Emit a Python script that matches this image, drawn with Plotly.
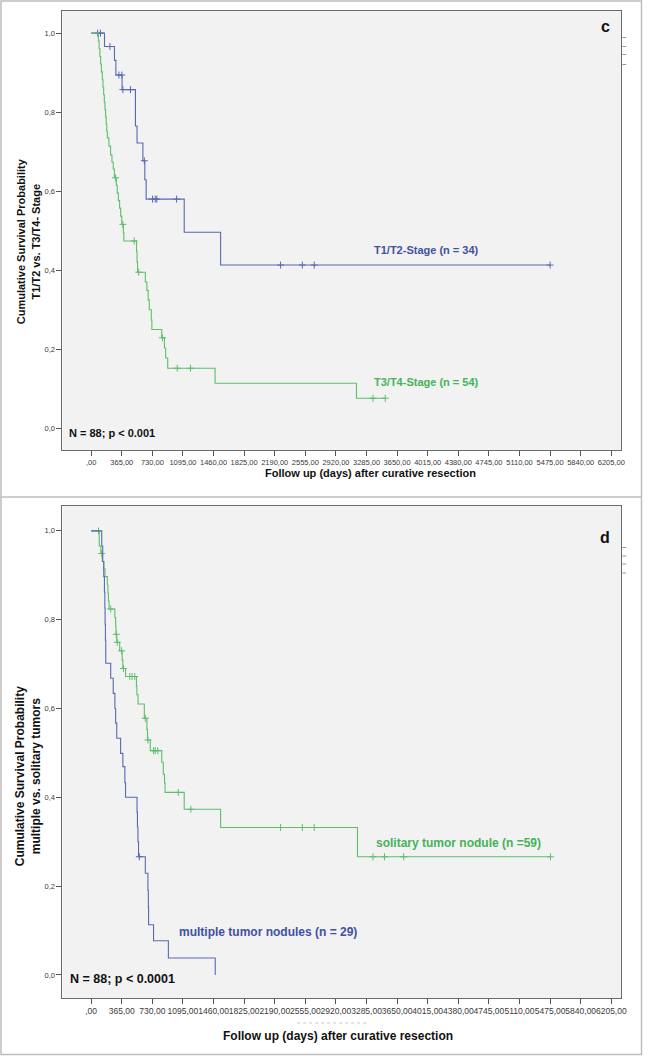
import plotly.graph_objects as go

W, H = 649, 1056

# ---------------- DATA ----------------
tick_days = [0, 365, 730, 1095, 1460, 1825, 2190, 2555, 2920, 3285, 3650, 4015,
             4380, 4745, 5110, 5475, 5840, 6205]
tick_day_labels = [",00", "365,00", "730,00", "1095,00", "1460,00", "1825,00", "2190,00",
                   "2555,00", "2920,00", "3285,00", "3650,00", "4015,00", "4380,00",
                   "4745,00", "5110,00", "5475,00", "5840,00", "6205,00"]
surv_ticks = [0.0, 0.2, 0.4, 0.6, 0.8, 1.0]
surv_tick_labels = ["0,0", "0,2", "0,4", "0,6", "0,8", "1,0"]

# Panel c: T1/T2 (blue)
c_blue_days = [0, 159, 278, 295, 369, 528, 547, 617, 640, 656, 1110, 1544, 5475]
c_blue_surv = [1.0, 0.966, 0.931, 0.894, 0.857, 0.765, 0.722, 0.677, 0.629, 0.580, 0.496, 0.413, 0.413]
c_blue_cens_days = [77, 111, 224, 331, 366, 378, 469, 634, 732, 764, 783, 1019, 2259, 2519, 2661, 5475]
c_blue_cens_surv = [1.0, 1.0, 0.966, 0.894, 0.894, 0.857, 0.857, 0.677, 0.580, 0.580, 0.580, 0.580,
                    0.413, 0.413, 0.413, 0.413]

# Panel c: T3/T4 (green)
c_green_days = [0, 86, 95, 104, 113, 122, 133, 141, 149, 157, 165, 172, 179, 186, 193, 212, 232,
                248, 263, 277, 300, 311, 325, 339, 352, 365, 384, 390, 541, 547, 553, 646, 665,
                680, 693, 717, 724, 842, 874, 889, 913, 1478, 3165, 3508]
c_green_surv = [1.0, 0.980, 0.961, 0.941, 0.922, 0.902, 0.882, 0.863, 0.844, 0.825, 0.806, 0.788,
                0.770, 0.752, 0.735, 0.714, 0.692, 0.674, 0.656, 0.634, 0.615, 0.595, 0.576,
                0.557, 0.537, 0.516, 0.495, 0.474, 0.448, 0.421, 0.395, 0.370, 0.349, 0.325,
                0.300, 0.274, 0.250, 0.229, 0.203, 0.178, 0.152, 0.114, 0.076, 0.076]
c_green_cens_days = [291, 378, 514, 567, 850, 1027, 1185, 3362, 3508]
c_green_cens_surv = [0.634, 0.516, 0.474, 0.395, 0.229, 0.152, 0.152, 0.076, 0.076]

# Panel d: solitary (green)
d_green_days = [0, 96, 115, 133, 150, 165, 193, 200, 206, 213, 283, 292, 296, 305, 340, 370, 378,
                410, 540, 545, 559, 634, 665, 672, 705, 842, 860, 875, 882, 1110, 1544, 3177, 5480]
d_green_surv = [1.0, 0.966, 0.949, 0.931, 0.914, 0.897, 0.878, 0.860, 0.842, 0.824, 0.805, 0.786,
                0.767, 0.749, 0.730, 0.709, 0.690, 0.672, 0.651, 0.631, 0.610, 0.578, 0.553,
                0.529, 0.505, 0.479, 0.452, 0.432, 0.411, 0.373, 0.332, 0.266, 0.266]
d_green_cens_days = [88, 126, 233, 299, 311, 363, 385, 461, 488, 520, 646, 677, 744, 764, 795,
                     1039, 1189, 2259, 2519, 2661, 3362, 3499, 3728, 5480]
d_green_cens_surv = [1.0, 0.949, 0.824, 0.767, 0.749, 0.730, 0.690, 0.672, 0.672, 0.672, 0.578,
                     0.529, 0.505, 0.505, 0.505, 0.411, 0.373, 0.332, 0.332, 0.332, 0.266,
                     0.266, 0.266, 0.266]

# Panel d: multiple (blue)
d_blue_days = [0, 126, 138, 150, 158, 163, 166, 170, 174, 233, 263, 283, 292, 305, 351, 378, 402,
               410, 547, 552, 558, 565, 646, 677, 682, 685, 744, 921, 1480]
d_blue_surv = [1.0, 0.966, 0.931, 0.897, 0.862, 0.826, 0.790, 0.754, 0.702, 0.668, 0.634, 0.600,
               0.567, 0.533, 0.499, 0.469, 0.433, 0.400, 0.366, 0.333, 0.300, 0.266, 0.229,
               0.191, 0.152, 0.113, 0.077, 0.038, 0.0]
d_blue_cens_days = [575]
d_blue_cens_surv = [0.266]

# ---------------- STYLE ----------------
BLUE = "#5869b2"
GREEN = "#5cbf6a"
BLUE_TXT = "#3e51a3"
GREEN_TXT = "#45b358"
FONT = "Arial, Liberation Sans, sans-serif"


def px(x):
    return x / W


def py(y):
    return 1 - y / H


fig = go.Figure()


def add_curve(days, surv, cd, cs, color, xa, ya):
    fig.add_trace(go.Scatter(x=days, y=surv, mode="lines", line=dict(color=color, width=1.1, shape="hv"),
                             xaxis=xa, yaxis=ya, showlegend=False, hoverinfo="skip"))
    fig.add_trace(go.Scatter(x=cd, y=cs, mode="markers",
                             marker=dict(symbol="cross-thin", size=5, line=dict(color=color, width=1)),
                             xaxis=xa, yaxis=ya, showlegend=False, hoverinfo="skip"))


add_curve(c_blue_days, c_blue_surv, c_blue_cens_days, c_blue_cens_surv, BLUE, "x", "y")
add_curve(c_green_days, c_green_surv, c_green_cens_days, c_green_cens_surv, GREEN, "x", "y")
add_curve(d_green_days, d_green_surv, d_green_cens_days, d_green_cens_surv, GREEN, "x2", "y2")
add_curve(d_blue_days, d_blue_surv, d_blue_cens_days, d_blue_cens_surv, BLUE, "x2", "y2")

XR = [-343, 6323]


def xaxis(domain, anchor, fsize):
    return dict(domain=domain, anchor=anchor, range=XR, tickmode="array", tickvals=tick_days,
                ticktext=tick_day_labels, ticks="outside", ticklen=5, tickcolor="#555",
                tickangle=0, tickfont=dict(family=FONT, size=fsize, color="#3a3a3a"),
                showline=True, mirror=True, linecolor="#6a6a6a", linewidth=1,
                showgrid=False, zeroline=False)


def yaxis(domain, anchor, yr):
    return dict(domain=domain, anchor=anchor, range=yr, tickmode="array", tickvals=surv_ticks,
                ticktext=surv_tick_labels, ticks="outside", ticklen=5, tickcolor="#555",
                tickfont=dict(family=FONT, size=7.5, color="#3a3a3a"),
                showline=True, mirror=True, linecolor="#6a6a6a", linewidth=1,
                showgrid=False, zeroline=False)


annotations = []


def txt(text, x, y, size, color, xref="paper", yref="paper", xanchor="center", bold=True,
        angle=0):
    annotations.append(dict(text=("<b>%s</b>" % text) if bold else text, x=x, y=y, xref=xref,
                            yref=yref, xanchor=xanchor, yanchor="middle", showarrow=False,
                            textangle=angle, font=dict(family=FONT, size=size, color=color)))


# Panel c texts
txt("T1/T2-Stage (n = 34)", 3354, 0.451, 11, BLUE_TXT, "x", "y", "left")
txt("T3/T4-Stage (n = 54)", 3354, 0.117, 11, GREEN_TXT, "x", "y", "left")
txt("N = 88; p < 0.001", -290, -0.011, 11, "#111", "x", "y", "left")
txt("c", px(611), py(27), 16, "#111")
txt("Follow up (days) after curative resection", px(374), py(473), 11, "#111")
txt("Cumulative Survival Probability<br>T1/T2 vs. T3/T4- Stage", px(28.5), py(241), 11, "#111",
    angle=-90)

# Panel d texts
txt("solitary tumor nodule (n =59)", 3378, 0.297, 12, GREEN_TXT, "x2", "y2", "left")
txt("multiple tumor nodules (n = 29)", 1027, 0.097, 12, BLUE_TXT, "x2", "y2", "left")
txt("N = 88; p < 0.0001", -280, -0.009, 12.5, "#111", "x2", "y2", "left")
txt("d", px(611), py(537), 16, "#111")
txt("Follow up (days) after curative resection", px(341), py(1036), 12, "#111")
txt("Cumulative Survival Probability<br>multiple vs. solitary tumors", px(28.5), py(776), 12, "#111",
    angle=-90)

shapes = [
    dict(type="rect", xref="paper", yref="paper", x0=px(1), x1=px(647.5), y0=py(1054.5), y1=py(1),
         line=dict(color="#bdbdbd", width=1.5)),
    dict(type="line", xref="paper", yref="paper", x0=px(1), x1=px(647.5), y0=py(497), y1=py(497),
         line=dict(color="#bdbdbd", width=1.5)),
    dict(type="line", xref="paper", yref="paper", x0=px(300), x1=px(372), y0=py(1023), y1=py(1023),
         line=dict(color="#c8c8c8", width=1, dash="dot")),
]
for yy, col in [(37.5, "#999"), (46.5, GREEN), (54.5, "#999"), (64.5, GREEN),
                (547.5, "#999"), (556, GREEN), (564, "#999"), (573, GREEN)]:
    shapes.append(dict(type="line", xref="paper", yref="paper", x0=px(628), x1=px(632),
                       y0=py(yy), y1=py(yy), line=dict(color=col, width=1)))

fig.update_layout(
    width=W, height=H, margin=dict(l=0, r=0, t=0, b=0),
    paper_bgcolor="white", plot_bgcolor="#f2f2f2",
    xaxis=xaxis([px(63), px(627)], "y", 7.5),
    yaxis=yaxis([py(450), py(11)], "x", [-0.055, 1.056]),
    xaxis2=xaxis([px(63), px(627)], "y2", 8.5),
    yaxis2=yaxis([py(998), py(506)], "x2", [-0.052, 1.056]),
    annotations=annotations, shapes=shapes,
    font=dict(family=FONT),
)

fig.write_html("out.html", config={"displayModeBar": False},
               post_script="document.body.style.margin='0';document.body.style.padding='0';")
